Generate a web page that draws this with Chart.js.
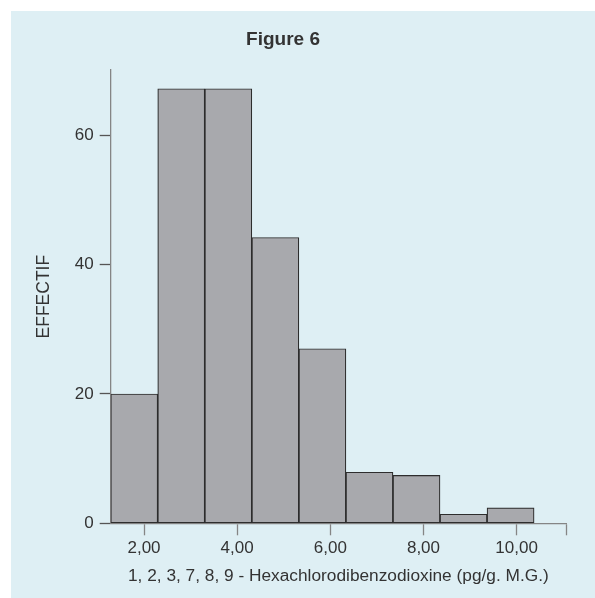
<!DOCTYPE html>
<html>
<head>
<meta charset="utf-8">
<script src="https://cdn.jsdelivr.net/npm/chart.js@4/dist/chart.umd.min.js"></script>
<style>
  html, body { margin: 0; padding: 0; background: #ffffff; }
  #wrap { width: 595px; height: 598px; position: relative; }
</style>
</head>
<body>
<div id="wrap"><canvas id="chart" width="595" height="598"></canvas></div>
<script>
// Histogram of 1,2,3,7,8,9-HxCDD concentrations: bin centres and counts
const binCenters = [1.79, 2.80, 3.81, 4.82, 5.83, 6.84, 7.85, 8.86, 9.87];
const counts = [20, 67.2, 67.2, 44.2, 27, 7.9, 7.4, 1.4, 2.4];
const xTickValues = [2, 4, 6, 8, 10];
const yTickValues = [0, 20, 40, 60];

const FONT = "'Liberation Sans', Arial, Helvetica, sans-serif";
const TEXT = '#333333';
const AXIS = '#858585';

// light blue panel behind the whole figure
const panel = {
  id: 'panel',
  beforeDraw(chart) {
    const ctx = chart.ctx;
    ctx.save();
    ctx.fillStyle = '#deeff4';
    ctx.fillRect(11, 11, chart.width - 11, chart.height - 11);
    ctx.restore();
  }
};

new Chart(document.getElementById('chart'), {
  type: 'bar',
  data: {
    datasets: [{
      data: binCenters.map((x, i) => ({ x: x, y: counts[i] })),
      backgroundColor: '#a8a9ad',
      borderColor: '#2d2d2d',
      borderWidth: 1.2,
      borderSkipped: false,
      barPercentage: 1,
      categoryPercentage: 1
    }]
  },
  options: {
    responsive: false,
    animation: false,
    devicePixelRatio: 1,
    layout: { padding: { left: 0, right: 29, top: 0, bottom: 11.7 } },
    plugins: {
      legend: { display: false },
      tooltip: { enabled: false },
      title: {
        display: true,
        text: 'Figure 6',
        color: TEXT,
        font: { family: FONT, size: 19, weight: 'bold' },
        padding: { top: 28.6, bottom: 18.6 }
      }
    },
    scales: {
      x: {
        type: 'linear',
        min: 1.285,
        max: 11.06,
        offset: false,
        afterBuildTicks: s => {
          s.ticks = xTickValues.map(v => ({ value: v })).concat([{ value: s.max }]);
        },
        afterFit: s => { s.height = 63; },
        border: { display: true, color: AXIS, width: 1.3 },
        grid: {
          offset: false,
          drawOnChartArea: false,
          drawTicks: true,
          tickLength: 12,
          tickColor: AXIS,
          tickWidth: 1.3
        },
        ticks: {
          autoSkip: false,
          maxRotation: 0,
          padding: 2.5,
          color: TEXT,
          font: { family: FONT, size: 17 },
          callback: v => xTickValues.includes(v) ? v.toFixed(2).replace('.', ',') : ''
        },
        title: {
          display: true,
          text: '1, 2, 3, 7, 8, 9 - Hexachlorodibenzodioxine (pg/g. M.G.)',
          color: TEXT,
          font: { family: FONT, size: 17.3 },
          padding: { top: 0, bottom: 0 }
        }
      },
      y: {
        min: 0,
        max: 70.1,
        afterBuildTicks: s => { s.ticks = yTickValues.map(v => ({ value: v })); },
        afterFit: s => { s.width = 110.7; },
        border: { display: true, color: AXIS, width: 1.3 },
        grid: {
          drawOnChartArea: false,
          drawTicks: true,
          tickLength: 11,
          tickColor: '#555555',
          tickWidth: 1.3
        },
        ticks: {
          padding: 6,
          color: TEXT,
          font: { family: FONT, size: 17 }
        },
        title: {
          display: true,
          text: 'EFFECTIF',
          color: TEXT,
          font: { family: FONT, size: 17.5 },
          padding: { top: 34, bottom: 0 }
        }
      }
    }
  },
  plugins: [panel]
});
</script>
</body>
</html>
